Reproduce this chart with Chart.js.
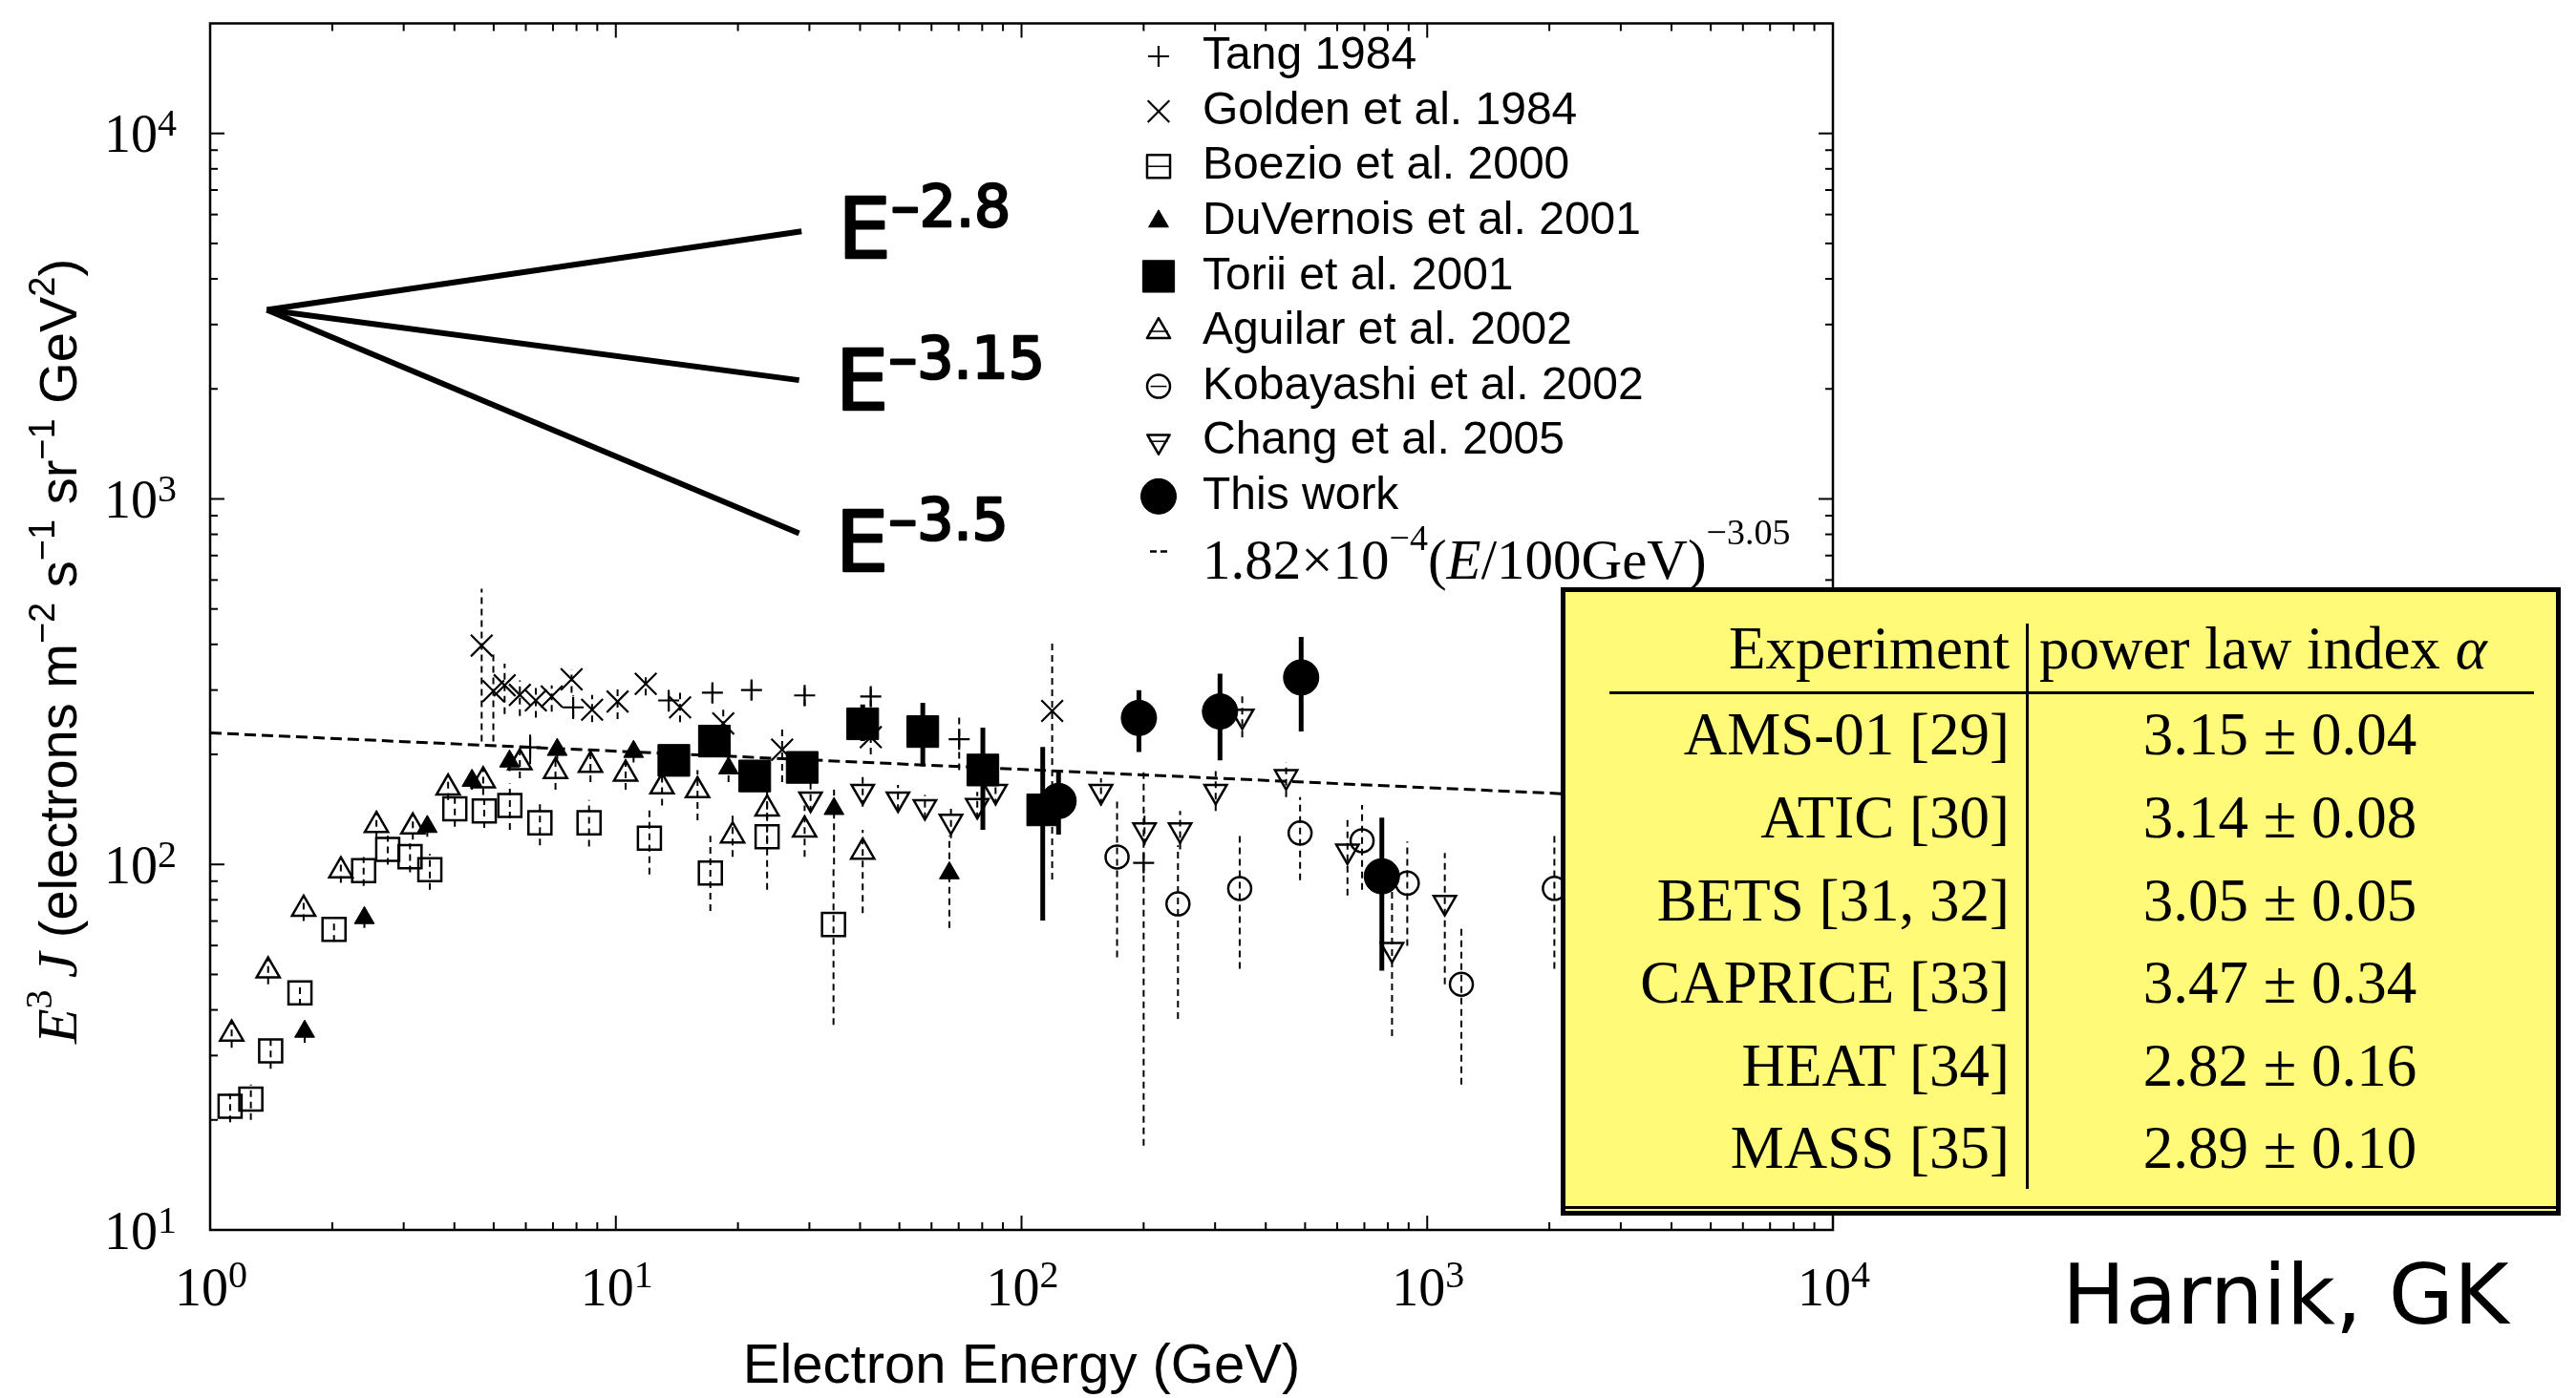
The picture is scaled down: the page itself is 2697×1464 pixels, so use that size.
<!DOCTYPE html>
<html lang="en">
<head>
<meta charset="utf-8">
<title>Electron spectrum E^3 J</title>
<script src="https://cdn.jsdelivr.net/npm/chart.js@4"></script>
<style>
  body { margin: 0; background: #fff; }
  #wrap { position: relative; width: 2697px; height: 1464px; overflow: hidden; background: #fff; }
  #chart { position: absolute; left: 0; top: 0; }
  #alpha { position: absolute; left: 1634px; top: 615px; width: 1047px; height: 658px; box-sizing: border-box;
           border: 5px solid #000; background: #fffa78; color: #000;
           font-family: "Liberation Serif", serif; font-size: 63px; line-height: 63px; }
  #alpha div { position: absolute; white-space: nowrap; }
  #alpha .lab { left: 0; width: 465px; text-align: right; }
  #alpha .val { left: 548px; width: 400px; text-align: center; }
  #alpha .vline { left: 482px; top: 33px; width: 2.5px; height: 592px; background: #000; }
  #alpha .hline { left: 46px; top: 104px; width: 968px; height: 2.5px; background: #000; }
  #alpha .bline { left: 0; top: 643px; width: 100%; height: 3px; background: #000; }
  #harnik { position: absolute; left: 2159px; top: 1312px; font-family: "DejaVu Sans", sans-serif;
            font-size: 88px; line-height: 88px; color: #000; white-space: nowrap; }
</style>
</head>
<body>
<div id="wrap">
  <canvas id="chart" width="2697" height="1464"></canvas>
  <div id="alpha"></div>
  <div id="harnik">Harnik, GK</div>
</div>
<script>
// axis ranges
const xMin = 1, xMax = 1e4, yMin = 10, yMax = 2e4;

// Tang 1984
const tangE  = [6.15, 7.85, 13.5, 17.3, 21.6, 29.2, 42.5, 70.2, 200];
const tangY  = [209, 269, 281, 295, 300, 290, 288, 220, 101];
const tangLo = [188, 250, 262, 276, 281, 271, 270, 181, 17];
const tangHi = [228, 290, 301, 315, 320, 310, 306, 258, 183];

// Golden et al. 1984
const goldenE  = [4.67, 4.99, 5.32, 5.80, 6.35, 6.95, 7.78, 8.74, 10.1, 11.85, 14.4, 18.4, 25.7, 42.5, 119];
const goldenY  = [397, 298, 309, 291, 281, 288, 321, 265, 279, 312, 269, 243, 206, 223, 263];
const goldenLo = [217, 217, 258, 255, 252, 262, 295, 245, 250, 290, 245, 220, 168, 200, 91];
const goldenHi = [568, 380, 354, 319, 309, 309, 341, 291, 310, 335, 295, 268, 240, 245, 409];

// Boezio et al. 2000
const boezioE  = [1.12, 1.26, 1.41, 1.665, 2.02, 2.39, 2.74, 3.11, 3.48, 4.01, 4.74, 5.48, 6.50, 8.59, 12.1, 17.1, 23.6, 34.4];
const boezioY  = [21.8, 22.8, 30.9, 44.5, 66.4, 96.2, 110, 105, 96.7, 142, 140, 145, 130, 130, 118, 94.7, 119, 68.5];
const boezioLo = [19.7, 20.0, 27.6, 41.1, 61.4, 87.3, 99.9, 95.1, 85.2, 126.8, 125.8, 124.3, 112.8, 112, 93.9, 74.6, 85.2, 36.4];
const boezioHi = [23.6, 25.0, 34.1, 48.1, 71.0, 104.8, 119.8, 114.1, 106.9, 154, 154.6, 166.4, 150.2, 150, 140.4, 119.8, 150, 100];

// DuVernois et al. 2001
const duvE  = [1.71, 2.40, 3.43, 4.42, 5.47, 7.17, 11.06, 18.96, 34.5, 66.4];
const duvY  = [34.9, 71.4, 126.8, 169.6, 191.5, 206, 203.5, 183.4, 142, 94.7];
const duvLo = [32.5, 67, 119, 160, 180, 194, 190, 168, 100, 67];
const duvHi = [37.5, 76, 135, 180, 203, 218, 217, 199, 160, 120];

// Torii et al. 2001
const toriiE  = [13.9, 17.5, 22.0, 28.8, 40.6, 57.1, 80.3, 112.8];
const toriiY  = [192.6, 217.5, 174.6, 184.3, 242.5, 231, 181.3, 141];
const toriiLo = [180, 200, 160, 172, 217.5, 185.6, 124.3, 70.2];
const toriiHi = [205, 235, 190, 197, 274, 277, 236.6, 209.6];

// Aguilar et al. 2002
const aguE  = [1.13, 1.39, 1.70, 2.10, 2.57, 3.16, 3.86, 4.71, 5.80, 7.10, 8.66, 10.57, 13.0, 15.9, 19.4, 23.6, 29.2, 40.6];
const aguY  = [34.4, 51.2, 75.5, 96.2, 128, 126.8, 162, 169.6, 190, 179.8, 187, 176.9, 163.2, 159.3, 119.8, 142, 124.3, 108.2];
const aguLo = [31.5, 47, 70, 89, 118, 117, 150, 155, 172, 160, 168, 160, 145, 132, 105, 115, 105, 73.6];
const aguHi = [37.5, 55.5, 81, 103, 138, 137, 175, 185, 208, 200, 206, 194, 182, 181, 136, 170, 145, 124.3];

// Kobayashi et al. 2002
const kobE  = [172, 243, 345, 486, 691, 893, 1214, 2058];
const kobY  = [104.8, 78, 85.9, 121.9, 116.1, 88.9, 47, 86];
const kobLo = [55.7, 37.8, 51.8, 90.6, 85.2, 59.9, 25, 51.8];
const kobHi = [152.8, 112.8, 119.8, 152.8, 145.5, 115.5, 68.5, 119.8];

// Chang et al. 2005
const changE  = [30.2, 40.6, 49.6, 57.8, 67.0, 77.8, 86.3, 157, 201, 246, 301, 350, 449, 636, 819, 1105];
const changY  = [151, 158.5, 151, 143.8, 131.2, 144.9, 158.5, 158.5, 124.3, 124.3, 158.5, 254.6, 173.8, 108.7, 58.5, 78.7];
const changLo = [138.7, 143.8, 140, 133, 118, 133, 145, 145, 112.8, 110, 140, 222.7, 152.9, 82.2, 33.9, 47];
const changHi = [168.4, 174.6, 165, 155, 142, 158, 172, 172, 140.4, 140, 180, 294.6, 190, 135.4, 84.2, 107.4];

// This work
const workE  = [123.4, 194.7, 308.5, 489, 773];
const workY  = [149.1, 251.6, 262.1, 324.8, 92.8];
const workLo = [120.7, 203, 192.6, 231, 51.2];
const workHi = [179.8, 299.7, 332.7, 419.4, 134.3];

// fit 1.82e-4 (E/100GeV)^-3.05, end points
const fitE = [1, 10000];
const fitY = [229, 144.6];

// power law fan
const fanStartE = 1.38, fanStartY = 3290;
const fanEndE = [28.7, 28.3, 28.3];
const fanEndY = [5395, 2113, 805];
const fanText = ['\u20132.8', '\u20133.15', '\u20133.5'];

// table
const tableExp = ['AMS-01 [29]', 'ATIC [30]', 'BETS [31, 32]', 'CAPRICE [33]', 'HEAT [34]', 'MASS [35]'];
const tableAlpha = ['3.15 \u00b1 0.04', '3.14 \u00b1 0.08', '3.05 \u00b1 0.05', '3.47 \u00b1 0.34', '2.82 \u00b1 0.16', '2.89 \u00b1 0.10'];

function pts(xs, ys) { return xs.map((x, i) => ({ x: x, y: ys[i] })); }

function series(label, xs, ys, lo, hi, st) {
  return {
    label: label, data: pts(xs, ys), errLo: lo, errHi: hi,
    errDash: st.solid ? [] : [7, 5], errWidth: st.solid ? 5 : 2,
    showLine: false, inLegend: true,
    pointStyle: st.style, pointRadius: st.r, pointRotation: st.rot || 0,
    pointBorderWidth: st.bw || 2.5, pointBorderColor: '#000',
    pointBackgroundColor: st.fill ? '#000' : 'rgba(0,0,0,0)',
    borderColor: '#000', backgroundColor: st.fill ? '#000' : 'rgba(0,0,0,0)',
    legendBar: !!st.bar
  };
}

const datasets = [
  series('Tang 1984', tangE, tangY, tangLo, tangHi, { style: 'cross', r: 11, bw: 2.2 }),
  series('Golden et al. 1984', goldenE, goldenY, goldenLo, goldenHi, { style: 'crossRot', r: 16, bw: 2.2 }),
  series('Boezio et al. 2000', boezioE, boezioY, boezioLo, boezioHi, { style: 'rect', r: 17, bar: true }),
  series('DuVernois et al. 2001', duvE, duvY, duvLo, duvHi, { style: 'triangle', r: 12, fill: true, bw: 1 }),
  series('Torii et al. 2001', toriiE, toriiY, toriiLo, toriiHi, { style: 'rect', r: 23.5, fill: true, bw: 1, solid: true }),
  series('Aguilar et al. 2002', aguE, aguY, aguLo, aguHi, { style: 'triangle', r: 14, bar: true }),
  series('Kobayashi et al. 2002', kobE, kobY, kobLo, kobHi, { style: 'circle', r: 12, bar: true }),
  series('Chang et al. 2005', changE, changY, changLo, changHi, { style: 'triangle', r: 13.5, rot: 180, bar: true }),
  series('This work', workE, workY, workLo, workHi, { style: 'circle', r: 18.5, fill: true, bw: 1, solid: true }),
  {
    label: 'fit', data: pts(fitE, fitY), showLine: true, pointRadius: 0,
    borderColor: '#000', borderWidth: 3, borderDash: [12, 6]
  }
];
fanEndE.forEach((e, i) => {
  datasets.push({
    label: 'E' + fanText[i], data: [{ x: fanStartE, y: fanStartY }, { x: e, y: fanEndY[i] }],
    showLine: true, pointRadius: 0, borderColor: '#000', borderWidth: 6, fanLabel: fanText[i]
  });
});

function line(ctx, x1, y1, x2, y2) { ctx.beginPath(); ctx.moveTo(x1, y1); ctx.lineTo(x2, y2); ctx.stroke(); }

// runs of text with superscripts, drawn left to right from (x, baseline)
function runs(ctx, parts, x, y, stroke) {
  parts.forEach(p => {
    ctx.font = p.f;
    ctx.fillText(p.t, x, y - (p.rise || 0));
    if (stroke) ctx.strokeText(p.t, x, y - (p.rise || 0));
    x += ctx.measureText(p.t).width;
  });
  return x;
}
function runsWidth(ctx, parts) {
  let w = 0;
  parts.forEach(p => { ctx.font = p.f; w += ctx.measureText(p.t).width; });
  return w;
}

const serif = '"Liberation Serif", serif';
const sans = '"Liberation Sans", sans-serif';

const errorBars = {
  id: 'errorBars',
  beforeDatasetsDraw(chart) {
    const { ctx, chartArea: a, scales: { x, y } } = chart;
    ctx.save();
    ctx.beginPath(); ctx.rect(a.left, a.top, a.width, a.height); ctx.clip();
    ctx.strokeStyle = '#000';
    chart.data.datasets.forEach(ds => {
      if (!ds.errLo) return;
      ctx.lineWidth = ds.errWidth;
      ctx.setLineDash(ds.errDash);
      ds.data.forEach((p, i) => {
        const px = x.getPixelForValue(p.x);
        line(ctx, px, y.getPixelForValue(ds.errLo[i]), px, y.getPixelForValue(ds.errHi[i]));
      });
    });
    ctx.restore();
  }
};

const axisFrame = {
  id: 'axisFrame',
  afterDatasetsDraw(chart) {
    const { ctx, chartArea: a, scales: { x, y } } = chart;
    ctx.save();
    ctx.strokeStyle = '#000';
    ctx.fillStyle = '#000';
    ctx.lineWidth = 2;
    for (let d = 0; d < 4; d++) for (let m = 1; m < 10; m++) {
      const v = m * Math.pow(10, d);
      if (v <= xMin || v >= xMax) continue;
      const px = x.getPixelForValue(v), len = m === 1 ? 15 : 8;
      line(ctx, px, a.bottom, px, a.bottom - len);
      line(ctx, px, a.top, px, a.top + len);
    }
    for (let d = 1; d < 5; d++) for (let m = 1; m < 10; m++) {
      const v = m * Math.pow(10, d);
      if (v <= yMin || v >= yMax) continue;
      const py = y.getPixelForValue(v), len = m === 1 ? 15 : 8;
      line(ctx, a.left, py, a.left + len, py);
      line(ctx, a.right, py, a.right - len, py);
    }
    ctx.lineWidth = 2.5;
    ctx.strokeRect(a.left, a.top, a.right - a.left, a.bottom - a.top);

    // tick labels 10^k
    ctx.textBaseline = 'alphabetic';
    ctx.textAlign = 'left';
    const big = '56px ' + serif, small = '40px ' + serif;
    for (let k = 0; k <= 4; k++) {
      const parts = [{ t: '10', f: big }, { t: String(k), f: small, rise: 19 }];
      const w = runsWidth(ctx, parts);
      runs(ctx, parts, x.getPixelForValue(Math.pow(10, k)) - w / 2 + 1, 1367);
    }
    for (let k = 1; k <= 4; k++) {
      const parts = [{ t: '10', f: big }, { t: String(k), f: small, rise: 17 }];
      const w = runsWidth(ctx, parts);
      runs(ctx, parts, 185 - w, y.getPixelForValue(Math.pow(10, k)) + 19.5);
    }
    ctx.restore();
  }
};

const annotations = {
  id: 'annotations',
  afterDraw(chart) {
    const { ctx, scales: { x, y } } = chart;
    ctx.save();
    ctx.fillStyle = '#000';
    ctx.strokeStyle = '#000';
    ctx.textBaseline = 'alphabetic';
    ctx.textAlign = 'left';

    // y axis title, rotated
    const yParts = [
      { t: 'E', f: 'italic 60px ' + serif },
      { t: '3', f: '40px ' + serif, rise: 26 },
      { t: '\u2009J', f: 'italic 60px ' + serif },
      { t: ' (electrons m', f: '56px ' + sans },
      { t: '\u22122', f: '38px ' + sans, rise: 23 },
      { t: ' s', f: '56px ' + sans },
      { t: '\u22121', f: '38px ' + sans, rise: 23 },
      { t: ' sr', f: '56px ' + sans },
      { t: '\u22121', f: '38px ' + sans, rise: 23 },
      { t: ' GeV', f: '56px ' + sans },
      { t: '2', f: '38px ' + sans, rise: 23 },
      { t: ')', f: '56px ' + sans }
    ];
    ctx.save();
    ctx.translate(80, 682);
    ctx.rotate(-Math.PI / 2);
    runs(ctx, yParts, -runsWidth(ctx, yParts) / 2, 0);
    ctx.restore();

    // fan labels E^-n
    const dy = [28, 31, 39];
    ctx.lineWidth = 2.5;
    ctx.lineJoin = 'round';
    chart.data.datasets.forEach(ds => {
      if (!ds.fanLabel) return;
      const end = ds.data[1];
      const i = fanText.indexOf(ds.fanLabel);
      const px = x.getPixelForValue(end.x) + 38, py = y.getPixelForValue(end.y) + dy[i];
      runs(ctx, [{ t: 'E', f: '88px "DejaVu Sans", sans-serif' },
                 { t: ds.fanLabel, f: '60px "DejaVu Sans", sans-serif', rise: 33 }], px, py, true);
    });

    // legend
    const symX = 1213, textX = 1259, row0 = 59, step = 57.6;
    let row = 0;
    chart.data.datasets.forEach(ds => {
      if (!ds.inLegend) return;
      const cy = row0 + step * row;
      ctx.fillStyle = ds.pointBackgroundColor;
      ctx.strokeStyle = '#000';
      ctx.lineWidth = ds.pointBorderWidth;
      ctx.setLineDash([]);
      const opts = { pointStyle: ds.pointStyle, rotation: ds.pointRotation, radius: ds.pointRadius, borderWidth: ds.pointBorderWidth };
      if (Chart.helpers && Chart.helpers.drawPoint) Chart.helpers.drawPoint(ctx, opts, symX, cy);
      if (ds.legendBar) {
        ctx.lineWidth = 1.5;
        line(ctx, symX - ds.pointRadius * 0.7, cy, symX + ds.pointRadius * 0.7, cy);
      }
      ctx.fillStyle = '#000';
      ctx.font = '48px ' + sans;
      ctx.textBaseline = 'middle';
      ctx.fillText(ds.label, textX, cy);
      ctx.textBaseline = 'alphabetic';
      row++;
    });
    const fy = row0 + step * row;
    ctx.lineWidth = 2.5;
    ctx.setLineDash([7, 4]);
    line(ctx, 1204, fy, 1223, fy);
    ctx.setLineDash([]);
    runs(ctx, [
      { t: '1.82\u00d710', f: '59px ' + serif },
      { t: '\u22124', f: '38px ' + serif, rise: 30 },
      { t: '(', f: '59px ' + serif },
      { t: 'E', f: 'italic 59px ' + serif },
      { t: '/100GeV)', f: '59px ' + serif },
      { t: '\u22123.05', f: '38px ' + serif, rise: 36 }
    ], textX, 606);
    ctx.restore();
  }
};

new Chart(document.getElementById('chart'), {
  type: 'scatter',
  data: { datasets: datasets },
  options: {
    responsive: false,
    animation: false,
    devicePixelRatio: 1,
    layout: { padding: { left: 0, top: 12, right: 778, bottom: 0 } },
    plugins: { legend: { display: false }, tooltip: { enabled: false } },
    scales: {
      x: {
        type: 'logarithmic', min: xMin, max: xMax,
        grid: { display: false }, border: { display: false },
        ticks: { display: false },
        title: { display: true, text: 'Electron Energy (GeV)', color: '#000',
                 font: { family: 'Liberation Sans', size: 58, lineHeight: 1 }, padding: { top: 0, bottom: 3 } },
        afterFit(s) { s.height = 176; }
      },
      y: {
        type: 'logarithmic', min: yMin, max: yMax,
        grid: { display: false }, border: { display: false },
        ticks: { display: false },
        afterFit(s) { s.width = 220; }
      }
    }
  },
  plugins: [errorBars, axisFrame, annotations]
});

// table of power-law indices
const box = document.getElementById('alpha');
function cell(cls, text, top, extra) {
  const d = document.createElement('div');
  d.className = cls;
  d.style.top = top + 'px';
  if (extra) Object.assign(d.style, extra);
  d.innerHTML = text;
  box.appendChild(d);
}
cell('lab', 'Experiment', 28);
cell('', 'power law index <i>\u03b1</i>', 28, { left: '496px' });
['vline', 'hline', 'bline'].forEach(c => { const d = document.createElement('div'); d.className = c; box.appendChild(d); });
const rowBase = [171, 258, 345, 431, 518, 604];
tableExp.forEach((t, i) => {
  cell('lab', t, rowBase[i] - 53);
  cell('val', tableAlpha[i], rowBase[i] - 53);
});
</script>
</body>
</html>
